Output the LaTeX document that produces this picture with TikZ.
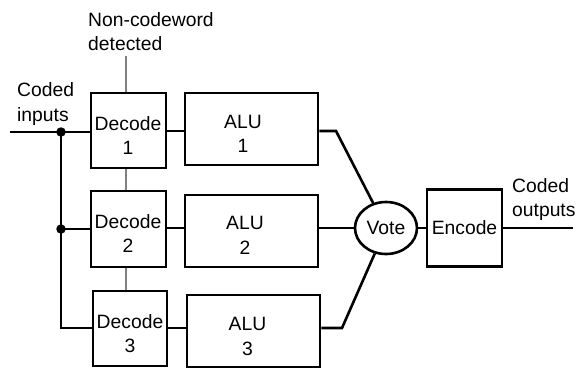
\documentclass[tikz,border=0pt]{standalone}
\usepackage{fontspec}
\setmainfont{Liberation Sans}
\usetikzlibrary{shapes.geometric}
\begin{document}
\begin{tikzpicture}[x=1pt,y=-1pt,
  every node/.style={font=\fontsize{19.3}{24.5}\selectfont},
  blk/.style={draw,line width=2.6pt,inner sep=0pt},
  txt/.style={align=center,inner sep=0pt},
  wire/.style={line width=2.6pt},
  gwire/.style={line width=1.4pt,gray},
  lbl/.style={align=left,anchor=west,inner sep=0pt},
  dot/.style={circle,fill,inner sep=0pt,minimum size=9.5pt}]
\useasboundingbox (0,0) rectangle (578,368);
% decoders
\node[blk,minimum width=75pt,minimum height=75pt] (dec1) at (128.5,130.5) {};
\node[blk,minimum width=75pt,minimum height=76pt] (dec2) at (128.5,229) {};
\node[blk,minimum width=74pt,minimum height=75pt] (dec3) at (130,328.5) {};
\node[txt] (dec1t) at (128,135.5) {Decode\\1};
\node[txt] (dec2t) at (128,233.5) {Decode\\2};
\node[txt] (dec3t) at (130,333.5) {Decode\\3};
% ALUs
\node[blk,minimum width=133pt,minimum height=72pt] (alu1) at (251.5,129) {};
\node[blk,minimum width=133pt,minimum height=72pt] (alu2) at (251.5,231) {};
\node[blk,minimum width=133pt,minimum height=72pt] (alu3) at (253.5,331) {};
\node[txt] (alu1t) at (243,134) {ALU\\1};
\node[txt] (alu2t) at (245,235.5) {ALU\\2};
\node[txt] (alu3t) at (247.5,336.5) {ALU\\3};
% vote and encode
\node[draw,ellipse,line width=2.6pt,minimum width=62pt,minimum height=52pt,inner sep=0pt] (vote) at (386,228) {Vote};
\node[blk,minimum width=75pt,minimum height=77pt] (enc) at (464.5,228) {Encode};
% labels
\node[lbl] (cin) at (17,104) {Coded\\inputs};
\node[lbl] (ncw) at (88,31.5) {Non-codeword\\detected};
\node[lbl] (cout) at (512,199.5) {Coded\\outputs};
% coordinates
\coordinate (in) at (10,132);
\coordinate (j1) at (61,132);
\coordinate (j2) at (61,229);
\coordinate (j3) at (61,328);
\coordinate (nc) at (126,56);
\coordinate (k1) at (336,131);
\coordinate (k3) at (342,328);
\coordinate (out) at (573,228);
% gray detection lines
\draw[gwire] (nc) -- (nc |- dec1.north);
\draw[gwire] (nc |- dec1.south) -- (nc |- dec2.north);
\draw[gwire] (nc |- dec2.south) -- (nc |- dec3.north);
% inputs
\draw[wire] (in) -- (in -| dec1.west);
\draw[wire] (j1) -- (j3) -- (j3 -| dec3.west);
\draw[wire] (j2) -- (j2 -| dec2.west);
\node[dot] (d1) at (j1) {};
\node[dot] (d2) at (j2) {};
% decoders to ALUs
\draw[wire] (dec1.east |- k1) -- (k1 -| alu1.west);
\draw[wire] (dec2.east |- vote) -- (vote -| alu2.west);
\draw[wire] (dec3.east |- k3) -- (k3 -| alu3.west);
% ALUs to vote
\draw[wire] (alu1.east |- k1) -- (k1) -- (vote);
\draw[wire] (alu2.east |- vote) -- (vote);
\draw[wire] (alu3.east |- k3) -- (k3) -- (vote);
% vote to encode to output
\draw[wire] (vote) -- (enc);
\draw[wire] (enc.east) -- (out);
\end{tikzpicture}
\end{document}
